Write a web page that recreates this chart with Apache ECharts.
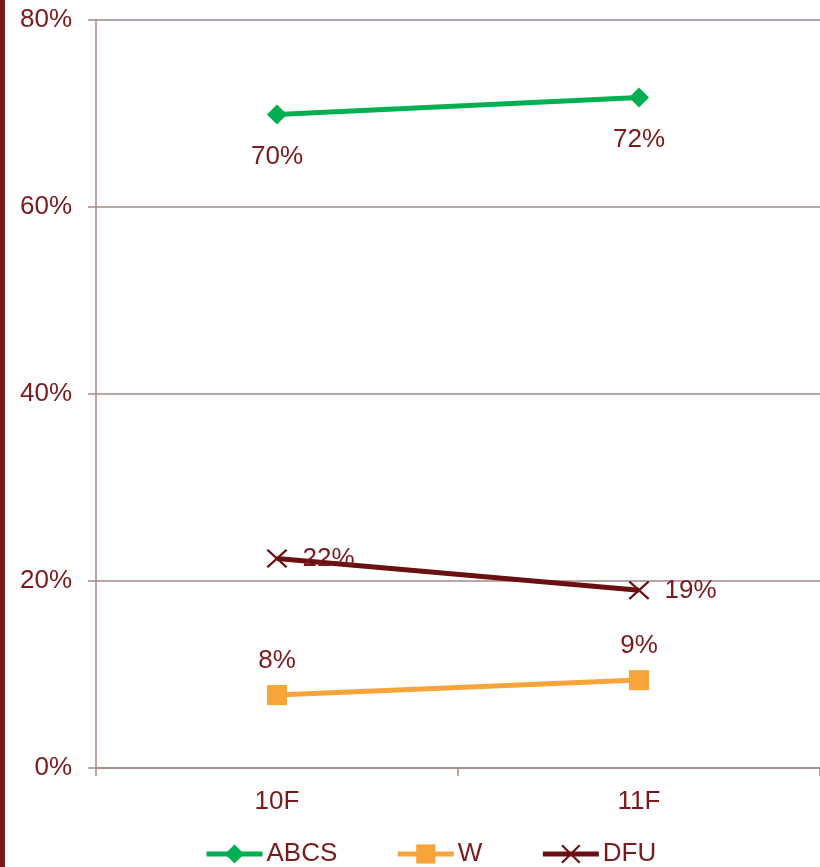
<!DOCTYPE html>
<html><head><meta charset="utf-8">
<script src="https://cdn.jsdelivr.net/npm/echarts@6/dist/echarts.min.js"></script>
<style>html,body{margin:0;padding:0;background:#fff}#c{width:820px;height:867px}
#bar{position:absolute;left:0;top:0;width:5px;height:867px;background:#7B1A1C}</style>
</head><body><div id="c"></div><div id="bar"></div>
<script>
const categories = ['10F', '11F'];
const abcs = [69.9, 71.7];
const w = [7.8, 9.4];
const dfu = [22.4, 19.0];
const yTicks = [0, 20, 40, 60, 80];

const txt = '#7B1A1C';
const axisCol = '#A58888';
const font = 'Liberation Sans, Arial, sans-serif';
const xPath = 'path://M0,0.8L0.8,0L5,4.2L9.2,0L10,0.8L5.8,5L10,9.2L9.2,10L5,5.8L0.8,10L0,9.2L4.2,5Z';

const chart = echarts.init(document.getElementById('c'));
const lbl = (pos, dist) => ({show: true, position: pos, distance: dist, color: txt, fontSize: 26, fontFamily: font,
  formatter: p => Math.round(p.value) + '%'});
chart.setOption({
  animation: false,
  textStyle: {fontFamily: font},
  grid: {left: 96, right: 0, top: 20, bottom: 99, containLabel: false},
  legend: {
    left: 204, top: 841, padding: 0, itemWidth: 56, itemHeight: 24, itemGap: 58,
    lineStyle: {width: 5},
    textStyle: {color: txt, fontSize: 26, fontFamily: font, padding: [0, 0, 0, -1]},
    data: ['ABCS', 'W', 'DFU']
  },
  xAxis: {
    type: 'category', data: categories, boundaryGap: true,
    axisLine: {lineStyle: {color: axisCol, width: 1.5}},
    axisTick: {show: true, length: 8, lineStyle: {color: axisCol, width: 1.5}},
    axisLabel: {color: txt, fontSize: 26, margin: 21, fontFamily: font}
  },
  yAxis: {
    type: 'value', min: 0, max: 80, interval: 20,
    axisLine: {show: true, lineStyle: {color: axisCol, width: 1.5}},
    axisTick: {show: true, length: 8, lineStyle: {color: axisCol, width: 1.5}},
    splitLine: {show: true, lineStyle: {color: axisCol, width: 1.5}},
    axisLabel: {color: txt, fontSize: 26, margin: 24, fontFamily: font,
      formatter: v => yTicks.includes(v) ? v + '%' : ''}
  },
  series: [
    {name: 'ABCS', type: 'line', data: abcs, symbol: 'diamond', symbolSize: [20, 20],
      itemStyle: {color: '#00B050'}, lineStyle: {color: '#00B050', width: 5},
      label: lbl('bottom', 19)},
    {name: 'W', type: 'line', data: w, symbol: 'rect', symbolSize: [20, 20],
      itemStyle: {color: '#F7A43B'}, lineStyle: {color: '#F7A43B', width: 5},
      label: lbl('top', 11)},
    {name: 'DFU', type: 'line', data: dfu, symbol: xPath, symbolSize: [21, 19],
      itemStyle: {color: '#6B1010'}, lineStyle: {color: '#6B1010', width: 5},
      label: lbl('right', 15), z: 3}
  ]
});
</script></body></html>
